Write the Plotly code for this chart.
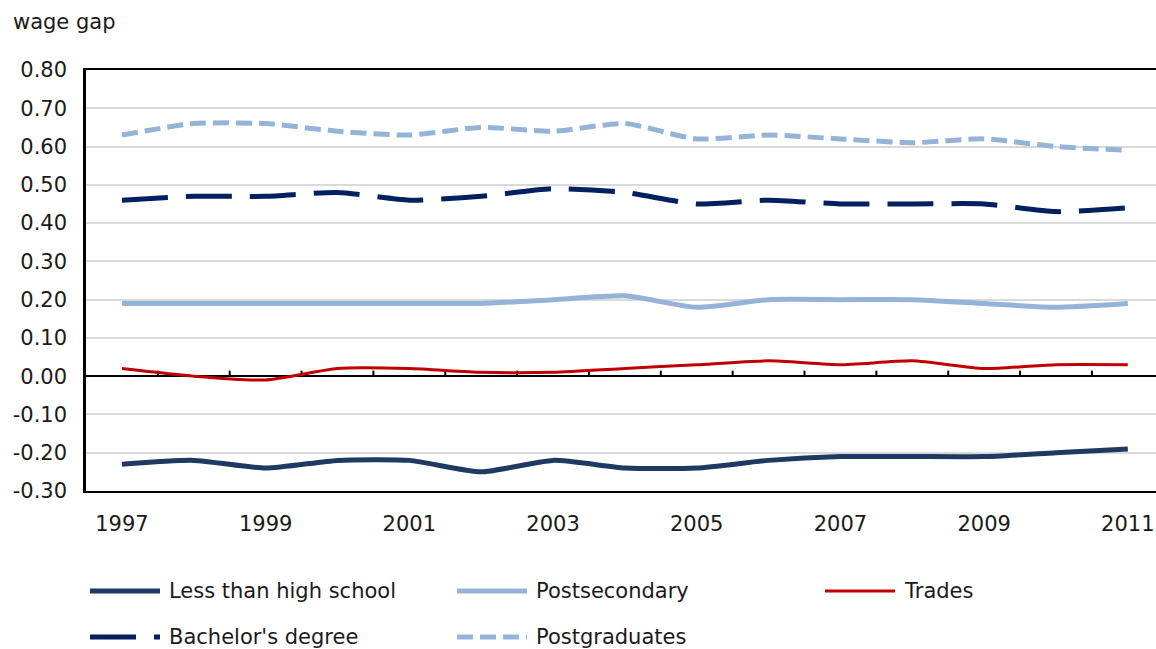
import plotly.graph_objects as go

# ---- data -------------------------------------------------------------
years = [1997, 1998, 1999, 2000, 2001, 2002, 2003, 2004,
         2005, 2006, 2007, 2008, 2009, 2010, 2011]

less_than_high_school = [-0.23, -0.22, -0.24, -0.22, -0.22, -0.25, -0.22, -0.24,
                         -0.24, -0.22, -0.21, -0.21, -0.21, -0.20, -0.19]
postsecondary = [0.19, 0.19, 0.19, 0.19, 0.19, 0.19, 0.20, 0.21,
                 0.18, 0.20, 0.20, 0.20, 0.19, 0.18, 0.19]
trades = [0.02, 0.00, -0.01, 0.02, 0.02, 0.01, 0.01, 0.02,
          0.03, 0.04, 0.03, 0.04, 0.02, 0.03, 0.03]
bachelors_degree = [0.46, 0.47, 0.47, 0.48, 0.46, 0.47, 0.49, 0.48,
                    0.45, 0.46, 0.45, 0.45, 0.45, 0.43, 0.44]
postgraduates = [0.63, 0.66, 0.66, 0.64, 0.63, 0.65, 0.64, 0.66,
                 0.62, 0.63, 0.62, 0.61, 0.62, 0.60, 0.59]

x_tick_years = [1997, 1999, 2001, 2003, 2005, 2007, 2009, 2011]
x_tick_labels = ["1997", "1999", "2001", "2003", "2005", "2007", "2009", "2011"]
y_tick_values = [-0.3, -0.2, -0.1, 0.0, 0.1, 0.2, 0.3, 0.4, 0.5, 0.6, 0.7, 0.8]
y_tick_labels = ["-0.30", "-0.20", "-0.10", "0.00", "0.10", "0.20",
                 "0.30", "0.40", "0.50", "0.60", "0.70", "0.80"]

# ---- layout constants -------------------------------------------------
W, H = 1156, 649
M_L, M_R, M_T, M_B = 86, 0, 70, 158
X_RANGE = [1996.5, 2011.392]
Y_RANGE = [-0.30, 0.80]
FONT = "DejaVu Sans"
TEXT = "#1a1a1a"

NAVY = "#1F3A60"
DARK_BLUE = "#002060"
LIGHT_BLUE = "#95B3D7"
RED = "#C00000"

series = [
    ("Less than high school", less_than_high_school, dict(color=NAVY, width=5, dash="solid")),
    ("Postsecondary", postsecondary, dict(color=LIGHT_BLUE, width=5, dash="solid")),
    ("Trades", trades, dict(color=RED, width=3, dash="solid")),
    ("Bachelor's degree", bachelors_degree, dict(color=DARK_BLUE, width=5, dash="46px,18px")),
    ("Postgraduates", postgraduates, dict(color=LIGHT_BLUE, width=5, dash="16px,7px")),
]

fig = go.Figure()
for name, values, line in series:
    fig.add_trace(go.Scatter(
        x=years, y=values, name=name, mode="lines",
        line=dict(shape="spline", smoothing=0.6, **line),
        showlegend=False, hoverinfo="x+y+name",
    ))

# small tick marks on the zero line, between categories
shapes = []
for yr in years[:-1]:
    shapes.append(dict(type="line", xref="x", yref="y",
                       x0=yr + 0.5, x1=yr + 0.5, y0=0, y1=0.0145,
                       line=dict(color="black", width=2), layer="below"))


def px_x(px):
    return (px - M_L) / (W - M_L - M_R)


def px_y(py):
    return (H - M_B - py) / (H - M_T - M_B)


# legend drawn by hand: two rows, three columns
legend_cols = [90, 457, 825]
legend_rows = [591, 637]
legend_slots = [(0, 0), (0, 1), (0, 2), (1, 0), (1, 1)]
annotations = []
for (name, _, line), (r, c) in zip(series, legend_slots):
    x0 = legend_cols[c]
    yy = legend_rows[r]
    shapes.append(dict(type="line", xref="paper", yref="paper",
                       x0=px_x(x0), x1=px_x(x0 + 70), y0=px_y(yy), y1=px_y(yy),
                       line=dict(color=line["color"], width=line["width"],
                                 dash=line["dash"])))
    annotations.append(dict(text=name, xref="paper", yref="paper",
                            x=px_x(x0 + 77), y=px_y(yy), xanchor="left",
                            yanchor="middle", showarrow=False,
                            font=dict(family=FONT, size=21, color=TEXT)))

annotations.append(dict(text="wage gap", xref="paper", yref="paper",
                        x=px_x(11), y=px_y(22), xanchor="left", yanchor="middle",
                        showarrow=False,
                        font=dict(family=FONT, size=21, color=TEXT)))

fig.update_layout(
    width=W, height=H,
    margin=dict(l=M_L, r=M_R, t=M_T, b=M_B, pad=0),
    paper_bgcolor="white", plot_bgcolor="white",
    font=dict(family=FONT, size=21, color=TEXT),
    shapes=shapes, annotations=annotations,
    showlegend=False,
    xaxis=dict(range=X_RANGE, tickvals=x_tick_years, ticktext=x_tick_labels,
               showgrid=False, zeroline=False, showline=True, mirror=True,
               linecolor="black", linewidth=2, ticks="",
               ticklabelstandoff=13, fixedrange=True),
    yaxis=dict(range=Y_RANGE, tickvals=y_tick_values, ticktext=y_tick_labels,
               showgrid=True, gridcolor="#D9D9D9", gridwidth=1.5,
               zeroline=True, zerolinecolor="black", zerolinewidth=2,
               showline=True, linecolor="black", linewidth=2.5, ticks="",
               ticklabelstandoff=12, fixedrange=True),
)

fig.write_html("out.html")
